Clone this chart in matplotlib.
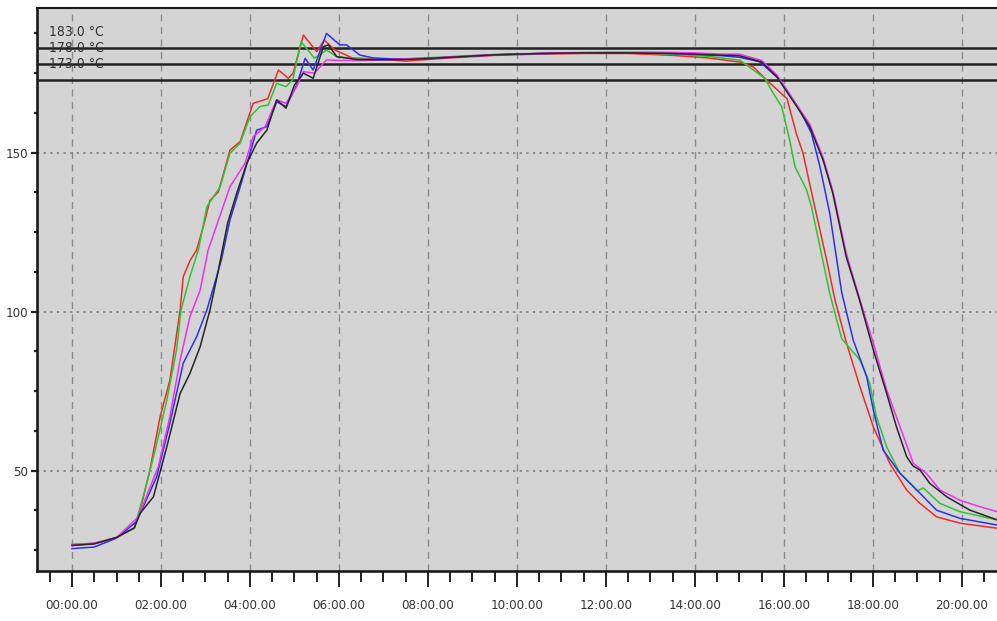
import matplotlib
matplotlib.use("Agg")
import matplotlib.pyplot as plt
from matplotlib import font_manager
from matplotlib.ticker import MultipleLocator, FixedLocator

# time in minutes, temperature in degC
red_t = [0, 0.5, 1.0, 1.4, 1.57, 1.75, 1.98, 2.2, 2.43, 2.5, 2.65, 2.8, 2.95, 3.1, 3.29,
         3.55, 3.78, 4.07, 4.18, 4.4, 4.64, 4.86, 4.97, 5.2, 5.5, 5.67, 5.91, 6.3,
         6.8, 7.5, 8.5, 9.5, 10.5, 11.5, 12.5, 13.5, 14.3, 15.01, 15.31, 15.61, 15.98,
         16.07, 16.28, 16.43, 16.66, 16.96, 17.15, 17.41, 17.71, 18.01, 18.38, 18.76,
         19.06, 19.43, 19.96, 20.8]
red_v = [26.5, 27, 29, 32, 39.7, 50.2, 67, 78.5, 100.5, 111, 116, 119.4, 126.7, 135, 137.7,
         150.8, 153.5, 165.5, 166, 167, 176, 173.4, 175, 187, 181.8, 185.4, 182.3, 179.8,
         179.5, 178.8, 179.8, 180.6, 181.0, 181.2, 181.2, 180.6, 179.8, 178.5, 177, 172.9, 168.1,
         167, 156, 149.8, 135.1, 116.3, 103.6, 90, 76.4, 63.8, 52.3, 43.9,
         39.7, 35.5, 33.5, 31.9]

green_t = [0, 0.5, 1.0, 1.4, 1.64, 1.87, 2.13, 2.35, 2.45, 2.65, 2.84, 3.03, 3.33, 3.55,
           3.78, 4.0, 4.22, 4.41, 4.6, 4.81, 4.96, 5.15, 5.45, 5.72, 5.95, 6.4,
           6.8, 7.5, 8.5, 9.5, 10.5, 11.5, 12.5, 13.5, 14.3, 15.01, 15.57, 15.76, 15.95,
           16.13, 16.25, 16.51, 16.62, 16.81, 17.03, 17.3, 17.71, 17.93, 18.08, 18.31,
           18.61, 18.91, 19.0, 19.13, 19.51, 19.96, 20.8]
green_v = [26.8, 27.2, 29, 32, 43.9, 56.5, 72.2, 88, 100.5, 111, 119.4, 133, 139.3, 149.8,
           153, 161.3, 164.5, 165, 171.8, 170.8, 172.9, 184.9, 179.7, 182.3, 180.2, 179.5,
           179.3, 179.5, 180.2, 180.9, 181.2, 181.3, 181.4, 181.0, 180.3, 179.1, 173.4, 168.7, 164.5,
           154, 145.6, 138.3, 133, 120.4, 105.8, 91.5, 84.8, 77.5, 67, 57.5,
           49.2, 45, 43.6, 44.6, 39.7, 37.1, 34.5]

blue_t = [0, 0.5, 1.0, 1.45, 1.9, 2.2, 2.5, 2.8, 3.03, 3.25, 3.36, 3.55, 3.78, 4.0, 4.15,
          4.38, 4.6, 4.81, 5.05, 5.24, 5.42, 5.72, 6.02, 6.17, 6.47, 6.77,
          7.2, 8.0, 9.0, 10.0, 11.0, 12.0, 13.0, 14.0, 14.6, 15.0, 15.46, 15.91, 16.36,
          16.62, 16.81, 17.03, 17.3, 17.56, 17.86, 18.01, 18.23, 18.61, 19.06, 19.43,
          19.96, 20.8]
blue_v = [25.5, 26, 28.8, 34, 48, 65, 83.8, 92.1, 100.5, 111, 116.5, 128.8, 139.3, 149.8, 157.1,
          158.2, 166, 164.5, 171.3, 179.7, 176, 187.5, 183.9, 183.9, 180.7, 179.8,
          179.5, 179.6, 180.4, 181.0, 181.3, 181.4, 181.4, 181.0, 180.5, 180, 178.6, 172.9, 163.4,
          156.1, 145.6, 131, 106, 91, 79.6, 69.1, 56.5, 49.2, 42.9, 37.6,
          35, 32.9]

black_t = [0, 0.5, 1.0, 1.4, 1.53, 1.83, 2.13, 2.43, 2.65, 2.88, 3.1, 3.29, 3.4, 3.5, 3.7,
           3.93, 4.15, 4.38, 4.6, 4.81, 5.0, 5.2, 5.42, 5.65, 5.76, 5.95, 6.4,
           6.8, 7.5, 8.5, 9.5, 10.5, 11.5, 12.5, 13.5, 14.3, 15.0, 15.5, 15.84, 16.29,
           16.58, 16.88, 17.1, 17.4, 17.7, 18.01, 18.31, 18.53, 18.76, 18.9, 19.06,
           19.28, 19.66, 20.18, 20.8]
black_v = [26.5, 27, 29, 32, 36.6, 41.8, 57.5, 74.3, 80.6, 89, 100.5, 113, 121, 128, 137.2,
           146.7, 153, 157.1, 166.6, 164, 171.3, 175, 173.4, 183.3, 183.9, 180.2, 179.3,
           179.2, 179.3, 180.0, 180.8, 181.2, 181.4, 181.4, 181.2, 180.8, 180.5, 178.5, 173.9, 164.5,
           158.2, 147.7, 137.2, 117.3, 103.7, 88, 74.3, 63.8, 54.4, 51.5, 50.2,
           46, 41.8, 37.6, 34.5]

magenta_t = [0, 0.5, 1.0, 1.49, 1.94, 2.2, 2.43, 2.65, 2.88, 3.06, 3.55, 3.89, 4.07, 4.34,
             4.6, 4.81, 5.05, 5.2, 5.45, 5.72, 6.0, 6.5,
             7.0, 8.0, 9.0, 10.0, 11.0, 12.0, 13.0, 14.0, 14.6, 15.0, 15.5, 15.84, 16.29,
             16.58, 16.88, 17.1, 17.4, 17.71, 18.01, 18.31, 18.61, 18.91, 19.2, 19.51,
             19.96, 20.4, 20.8]
magenta_v = [26.8, 27.2, 29, 35.5, 51.3, 67, 84.8, 98.4, 106.8, 119.4, 139.3, 146.7, 155, 158.2,
             166.6, 165.5, 170.8, 175.5, 175, 179.2, 179, 179,
             179.2, 179.7, 180.5, 181.0, 181.4, 181.6, 181.6, 181.4, 181.0, 181, 179, 174.5, 165,
             159, 148.5, 138, 118.5, 103.7, 90.1, 75.4, 63.8, 52.3, 49.2, 43.9,
             40.7, 38.7, 37.1]

limit_values = [183.0, 178.0, 173.0]
limit_labels = ["183.0 °C", "178.0 °C", "173.0 °C"]

tick_minutes = list(range(0, 21, 2))
tick_labels = ["%02d:00.00" % m for m in tick_minutes]

series = [
    (red_t, red_v, "#f02a2a"),
    (green_t, green_v, "#2ec42e"),
    (blue_t, blue_v, "#2f2ff0"),
    (magenta_t, magenta_v, "#f030f0"),
    (black_t, black_v, "#262626"),
]

# the reference uses a narrow font; take a condensed face if one is installed
ttf = font_manager.fontManager.ttflist
names = {f.name for f in ttf}
if "Liberation Sans Narrow" in names:
    font_family, font_stretch, tick_size, lab_size = "Liberation Sans Narrow", "normal", 11, 11.5
elif any(f.name == "DejaVu Sans" and "Condensed" in f.fname for f in ttf):
    font_family, font_stretch, tick_size, lab_size = "DejaVu Sans", "condensed", 9.5, 10
else:
    font_family, font_stretch, tick_size, lab_size = "Liberation Sans", "normal", 10, 10.5
plt.rcParams["font.family"] = [font_family, "DejaVu Sans"]
plt.rcParams["font.stretch"] = font_stretch

fig = plt.figure(figsize=(9.97, 6.21), dpi=100)
ax = fig.add_axes([37 / 997, 1 - 571 / 621, 1 - 37 / 997, (571 - 8) / 621])
ax.set_facecolor("#d4d4d4")

# threshold lines with their labels
for val, lab in zip(limit_values, limit_labels):
    ax.axhline(val, color="#222222", lw=1.8, zorder=2)
    ax.text(-0.52, val + 5.0, lab, fontsize=lab_size, color="#333333",
            ha="left", va="center", zorder=4)

for t, v, c in series:
    ax.plot(t, v, color=c, lw=1.1, zorder=3)

ax.set_xlim(-0.787, 20.79)
ax.set_ylim(18.46, 195.5)

ax.xaxis.set_major_locator(FixedLocator(tick_minutes))
ax.set_xticklabels(tick_labels)
ax.xaxis.set_minor_locator(MultipleLocator(0.5))
ax.yaxis.set_major_locator(FixedLocator([50, 100, 150]))
ax.yaxis.set_minor_locator(MultipleLocator(12.5))

ax.grid(True, which="major", axis="x", color="#8a8a8a", lw=1.0, linestyle=(0, (5, 4)))
ax.grid(True, which="major", axis="y", color="#8a8a8a", lw=1.4, linestyle=(0, (1.2, 2.2)))
ax.set_axisbelow(True)

ax.tick_params(axis="x", which="major", length=11.5, width=1.4, pad=9,
               labelsize=tick_size, labelcolor="#333333", color="#222222")
ax.tick_params(axis="x", which="minor", length=8, width=1.4, color="#222222")
ax.tick_params(axis="y", which="major", length=4.5, width=1.6, pad=2,
               labelsize=tick_size, labelcolor="#333333", color="#222222")
ax.tick_params(axis="y", which="minor", length=2.2, width=1.6, color="#222222")

for side in ["left", "bottom"]:
    ax.spines[side].set_linewidth(1.9)
    ax.spines[side].set_color("#1a1a1a")
ax.spines["top"].set_linewidth(1.5)
ax.spines["top"].set_color("#1a1a1a")
ax.spines["right"].set_visible(False)

fig.savefig("out.png", dpi=100)
